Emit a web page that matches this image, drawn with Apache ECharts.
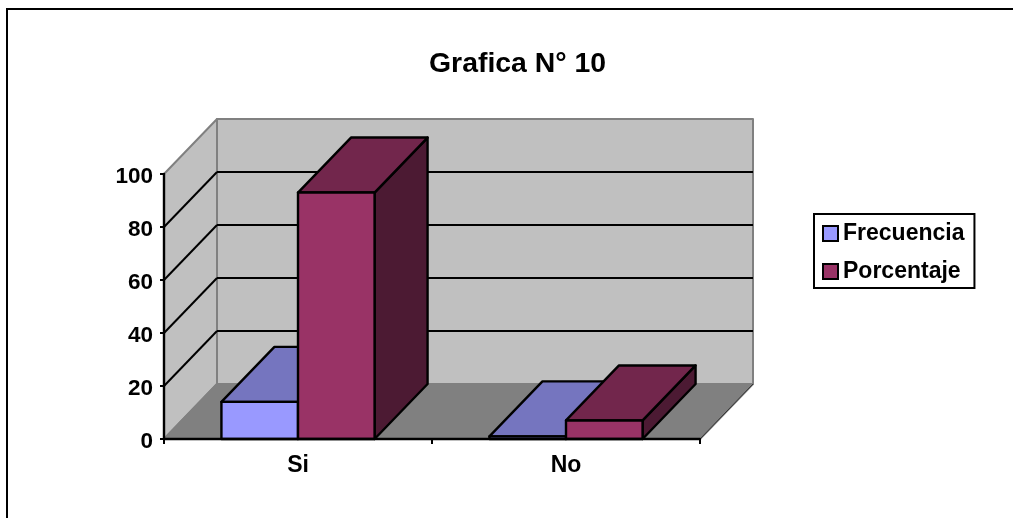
<!DOCTYPE html>
<html>
<head>
<meta charset="utf-8">
<style>html,body{margin:0;padding:0;background:#fff}#c{width:1013px;height:518px}</style>
<script src="https://cdn.jsdelivr.net/npm/echarts@6/dist/echarts.min.js"></script>
</head>
<body>
<div id="c"></div>
<script>
const categories = ['Si', 'No'];
const frecuencia = [14, 1];
const porcentaje = [93, 7];
const yTicks = [0, 20, 40, 60, 80, 100];

const DX = 53, DY = 55, GAP = 1.5;
const FONT = '"Liberation Sans", Arial, sans-serif';

function poly(points, fill, stroke, lw) {
  return {type: 'polygon', shape: {points}, style: {fill, stroke: stroke || '#000', lineWidth: lw || 2.4, lineJoin: 'round'}};
}
function seg(x1, y1, x2, y2, stroke, lw) {
  return {type: 'line', shape: {x1, y1, x2, y2}, style: {stroke: stroke || '#000', lineWidth: lw || 2, fill: null}};
}
function renderWalls(params, api) {
  const r = params.coordSys, L = r.x, R = r.x + r.width, T = r.y, B = r.y + r.height;
  const G = '#808080';
  const kids = [
    poly([[L, B], [L + DX, B - DY], [L + DX, T - DY], [L, T]], '#C0C0C0', G, 2),
    poly([[L + DX, T - DY], [R + DX, T - DY], [R + DX, B - DY], [L + DX, B - DY]], '#C0C0C0', G, 2),
    poly([[L, B], [R, B], [R + DX, B - DY], [L + DX, B - DY]], '#808080', G, 2)
  ];
  kids.push(seg(R, B, R + DX, B - DY, '#333', 1));
  yTicks.forEach(t => {
    if (t === 0 || t === 100) return;
    const y = api.coord([0, t])[1];
    kids.push(seg(L, y, L + DX, y - DY));
    kids.push(seg(L + DX, y - DY, R + DX, y - DY));
  });
  return {type: 'group', children: kids};
}
function barRenderer(slot, front, top, side) {
  return function (params, api) {
    const p = api.coord([api.value(0), api.value(1)]);
    const base = api.coord([api.value(0), 0]);
    const w = api.size([1, 0])[0] / (2 + GAP);
    const x0 = p[0] - w + slot * w, x1 = x0 + w, yT = p[1], yB = base[1];
    return {type: 'group', children: [
      poly([[x1, yB], [x1 + DX, yB - DY], [x1 + DX, yT - DY], [x1, yT]], side),
      poly([[x0, yT], [x1, yT], [x1 + DX, yT - DY], [x0 + DX, yT - DY]], top),
      poly([[x0, yB], [x1, yB], [x1, yT], [x0, yT]], front)
    ]};
  };
}
const chart = echarts.init(document.getElementById('c'), null, {renderer: 'canvas'});
chart.setOption({
  animation: false,
  backgroundColor: '#fff',
  title: {
    text: 'Grafica N° 10', left: 424, top: 45,
    textStyle: {fontFamily: FONT, fontWeight: 'bold', fontSize: 28.4, color: '#000'}
  },
  legend: {
    left: 814, top: 214, orient: 'vertical', icon: 'rect', itemWidth: 15, itemHeight: 15, itemGap: 15,
    padding: [8, 10, 5, 8], borderColor: '#000', borderWidth: 2, backgroundColor: '#fff',
    data: ['Frecuencia', 'Porcentaje'],
    textStyle: {fontFamily: FONT, fontWeight: 'bold', fontSize: 23, color: '#000', padding: [2, 0, 0, 0]},
    selectedMode: false
  },
  grid: {left: 164, right: 313, top: 174, bottom: 79},
  xAxis: {
    type: 'category', data: categories, z: 3,
    axisLine: {lineStyle: {color: '#000', width: 2.4}},
    axisTick: {show: true, alignWithLabel: false, length: 5, lineStyle: {color: '#000', width: 2}},
    axisLabel: {fontFamily: FONT, fontWeight: 'bold', fontSize: 23, color: '#000', margin: 15}
  },
  yAxis: {
    type: 'value', min: 0, max: 100, interval: 20, z: 3,
    splitLine: {show: false},
    axisLine: {show: true, lineStyle: {color: '#000', width: 2.4}},
    axisTick: {show: true, length: 4, lineStyle: {color: '#000', width: 2}},
    axisLabel: {
      margin: 11, formatter: '{v|{value}}',
      rich: {v: {fontFamily: FONT, fontWeight: 'bold', fontSize: 22.5, color: '#000', padding: [5, 0, 0, 0]}}
    }
  },
  graphic: [
    {type: 'line', silent: true, shape: {x1: 6, y1: 9, x2: 1013, y2: 9}, style: {stroke: '#000', lineWidth: 2}},
    {type: 'line', silent: true, shape: {x1: 7, y1: 8, x2: 7, y2: 518}, style: {stroke: '#000', lineWidth: 2}}
  ],
  series: [
    {type: 'custom', name: 'walls', renderItem: renderWalls, data: [[0, 0]], silent: true, z: 1},
    {type: 'custom', name: 'Frecuencia', z: 2,
     renderItem: barRenderer(0, '#9999FF', '#7575BF', '#4C4C80'),
     itemStyle: {color: '#9999FF', borderColor: '#000', borderWidth: 2},
     data: frecuencia.map((v, i) => [i, v])},
    {type: 'custom', name: 'Porcentaje', z: 2,
     renderItem: barRenderer(1, '#993366', '#72264C', '#4C1A33'),
     itemStyle: {color: '#993366', borderColor: '#000', borderWidth: 2},
     data: porcentaje.map((v, i) => [i, v])}
  ]
});
</script>
</body>
</html>
